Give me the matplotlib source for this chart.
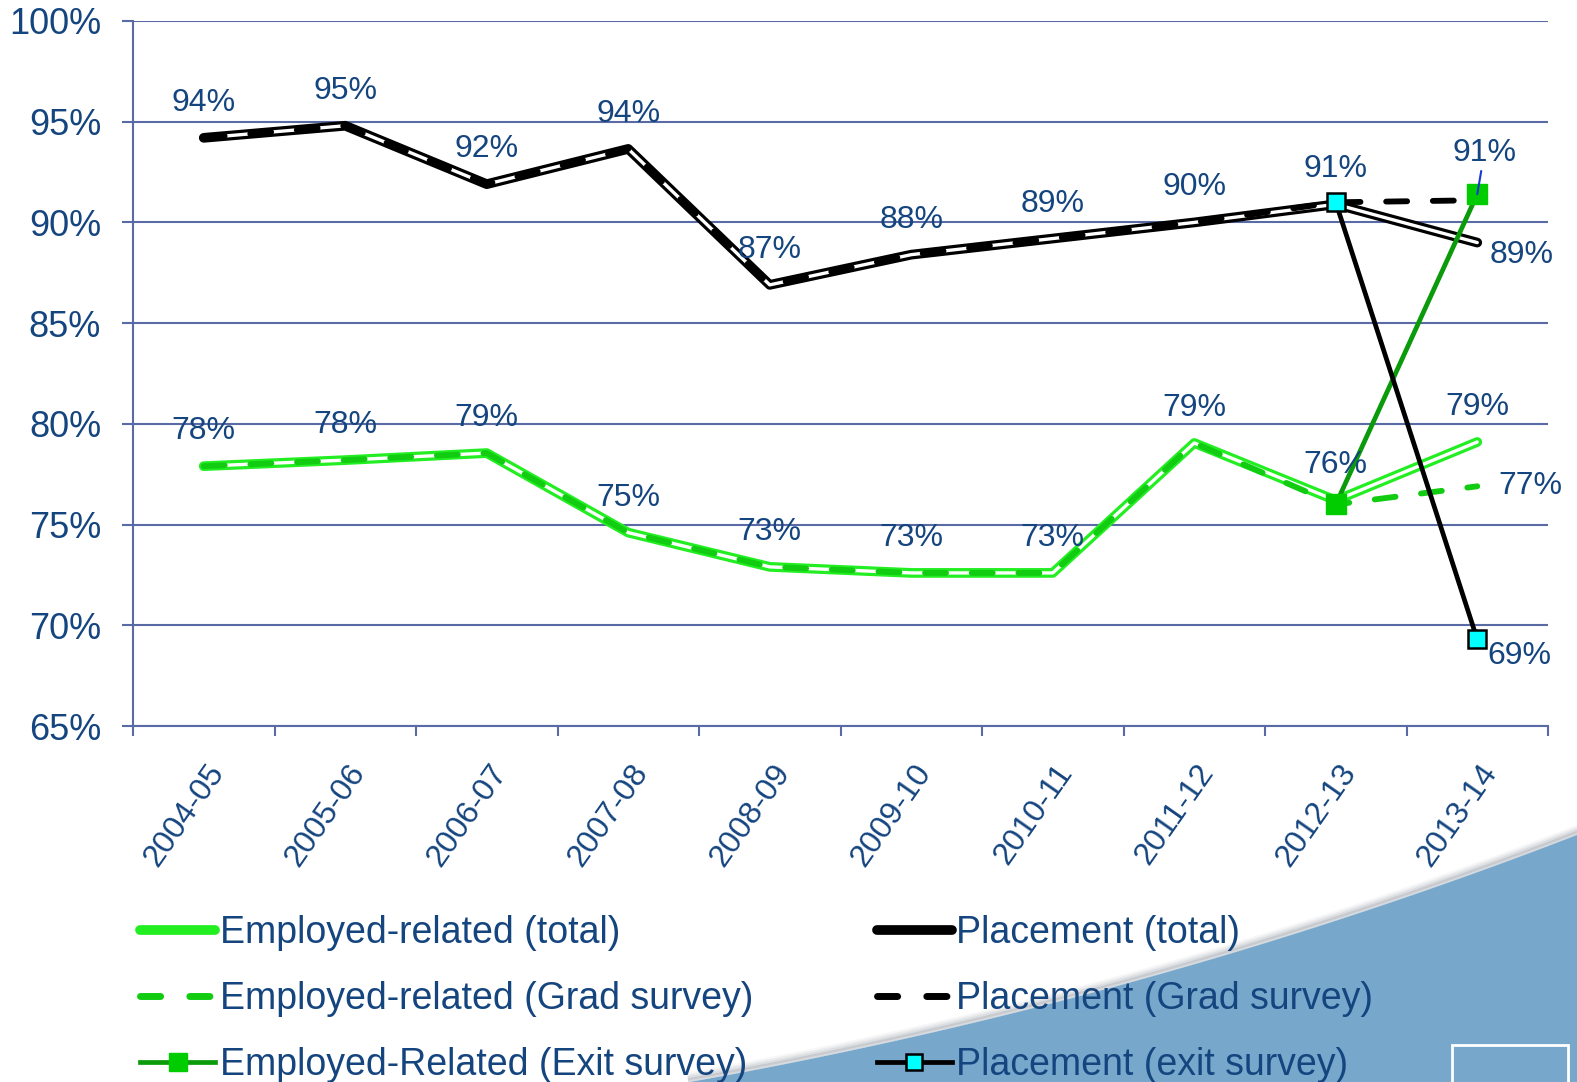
import numpy as np
import matplotlib.pyplot as plt
import matplotlib.transforms as mtransforms
from matplotlib.lines import Line2D
from matplotlib.patches import Polygon, Rectangle

plt.rcParams['font.family'] = ['Liberation Sans', 'DejaVu Sans']

years = ['2004-05', '2005-06', '2006-07', '2007-08', '2008-09',
         '2009-10', '2010-11', '2011-12', '2012-13', '2013-14']
placement_total = [94.2, 94.8, 91.9, 93.65, 86.9, 88.4, 89.2, 90.0, 90.9, 89.0]
placement_grad = [94.2, 94.8, 91.9, 93.65, 86.9, 88.4, 89.2, 90.0, 91.0, 91.1]
placement_exit = [91.0, 69.3]
employed_total = [77.9, 78.2, 78.55, 74.6, 72.9, 72.6, 72.6, 79.05, 76.2, 79.1]
employed_grad = [77.9, 78.2, 78.55, 74.6, 72.9, 72.6, 72.6, 79.05, 76.0, 76.9]
employed_exit = [76.0, 91.4]
exit_years = [8, 9]  # index of 2012-13, 2013-14

txt_col = '#15457F'
grid_col = '#5A6AA5'
green_tot = '#22EE22'
green_grad = '#11CC11'
green_exit = '#0A9A0A'

fig = plt.figure(figsize=(15.77, 10.82), dpi=100)

# decorative swoosh in the bottom right corner
W, H = 1577.0, 1082.0
t = np.linspace(0, 1, 80)
p0, p1, p2 = np.array([690, 1082]), np.array([1150, 1000]), np.array([1577, 835])
curve = np.outer((1 - t) ** 2, p0) + np.outer(2 * t * (1 - t), p1) + np.outer(t ** 2, p2)
pts = np.vstack([curve, [[1577, 1082]]])
pts_f = np.column_stack([pts[:, 0] / W, 1 - pts[:, 1] / H])
for k, a in [(8, 0.06), (6, 0.1), (4, 0.18), (2, 0.3)]:
    fig.lines.append(Line2D(curve[:, 0] / W, 1 - (curve[:, 1] - k) / H, transform=fig.transFigure,
                            color='#7F8792', lw=3, alpha=a, zorder=0))
fig.patches.append(Polygon(pts_f, closed=True, transform=fig.transFigure,
                           facecolor='#77A8CC', edgecolor='none', zorder=0))
fig.patches.append(Rectangle((1452 / W, 1 - 1090 / H), 116 / W, 45 / H, transform=fig.transFigure,
                             facecolor='none', edgecolor='white', lw=2, zorder=1))

ax = fig.add_axes([133 / W, 1 - 726 / H, (1548 - 133) / W, (726 - 21) / H])
x = np.arange(len(years))

# total lines: hollow double line
for vals, col in [(placement_total, 'black'), (employed_total, green_tot)]:
    ax.plot(x, vals, color=col, lw=7.0, solid_capstyle='round', solid_joinstyle='round', zorder=3)
    ax.plot(x, vals, color='white', lw=2.4, solid_capstyle='round', solid_joinstyle='round', zorder=4)

# grad survey dashed
for vals, col in [(placement_grad, 'black'), (employed_grad, green_grad)]:
    ax.plot(x, vals, color=col, lw=4.2, dashes=(3.6, 4.4), dash_capstyle='round',
            dash_joinstyle='round', zorder=5)

# exit survey lines
ax.plot(exit_years, employed_exit, color=green_exit, lw=3.4, marker='s', ms=14,
        mfc='#00CC00', mec='#00CC00', zorder=6)
ax.plot(exit_years, placement_exit, color='black', lw=3.4, marker='s', ms=13,
        mfc='#00FFFF', mec='black', mew=1.8, zorder=7)

# data labels
lab = dict(fontsize=23, color=txt_col, ha='center', va='center',
           textcoords='offset points', zorder=8)
s = 1 / 1.389  # px -> pt
for i in range(9):
    ax.annotate(f'{placement_total[i]:.0f}%', (x[i], placement_total[i]), xytext=(0, 35 * s), **lab)
for i in range(10):
    ax.annotate(f'{employed_total[i]:.0f}%', (x[i], employed_total[i]), xytext=(0, 35 * s), **lab)
ax.annotate(f'{placement_total[9]:.0f}%', (x[9], placement_total[9]), xytext=(44 * s, -12 * s), **lab)
ax.annotate(f'{placement_exit[1]:.0f}%', (x[9], placement_exit[1]), xytext=(42 * s, -17 * s), **lab)
ax.annotate(f'{employed_grad[9]:.0f}%', (x[9], employed_grad[9]), xytext=(53 * s, 0), **lab)
ax.annotate(f'{employed_exit[1]:.0f}%', (x[9], employed_exit[1]), xytext=(7 * s, 41 * s),
            arrowprops=dict(arrowstyle='-', color='#1838D0', lw=1.5, shrinkA=0, shrinkB=0), **lab)

# axes styling
ax.set_xlim(-0.5, 9.5)
ax.set_ylim(65, 100)
ax.set_yticks(np.arange(65, 101, 5))
ax.set_yticklabels([f'{v}%' for v in range(65, 101, 5)])
ax.yaxis.grid(True, color=grid_col, lw=1.5)
ax.set_axisbelow(True)
for sp in ['top', 'right']:
    ax.spines[sp].set_visible(False)
for sp in ['left', 'bottom']:
    ax.spines[sp].set_color(grid_col)
    ax.spines[sp].set_linewidth(1.5)
ax.tick_params(axis='y', length=8, width=1.5, color=grid_col, labelsize=26,
               labelcolor=txt_col, pad=15)
ax.set_xticks(x)
ax.set_xticklabels(years, rotation=55, ha='right', va='center', rotation_mode='anchor')
ax.set_xticks(np.arange(-0.5, 10, 1), minor=True)
ax.tick_params(axis='x', which='major', length=0, labelsize=23, labelcolor=txt_col, pad=30)
ax.tick_params(axis='x', which='minor', length=7, width=1.5, color=grid_col)
shift = mtransforms.ScaledTranslation(14 / 100, 0, fig.dpi_scale_trans)
for lbl in ax.get_xticklabels():
    lbl.set_transform(lbl.get_transform() + shift)

# legend
handles = [
    Line2D([], [], color=green_tot, lw=7, solid_capstyle='round'),
    Line2D([], [], color=green_grad, lw=5, dashes=(2.9, 4.2), dash_capstyle='round'),
    Line2D([], [], color=green_exit, lw=3.4, marker='s', ms=13, mfc='#00CC00', mec='#00CC00'),
    Line2D([], [], color='black', lw=7, solid_capstyle='round'),
    Line2D([], [], color='black', lw=5, dashes=(2.9, 4.2), dash_capstyle='round'),
    Line2D([], [], color='black', lw=3.4, marker='s', ms=12, mfc='#00FFFF', mec='black', mew=1.8),
]
labels = ['Employed-related (total)', 'Employed-related (Grad survey)', 'Employed-Related (Exit survey)',
          'Placement (total)', 'Placement (Grad survey)', 'Placement (exit survey)']
leg = fig.legend(handles, labels, ncol=2, loc='upper left', bbox_to_anchor=(140 / W, 1 - 915 / H),
                 frameon=False, prop={'family': 'Liberation Sans', 'size': 27},
                 handlelength=2.0, handletextpad=0.12,
                 columnspacing=3.3, labelspacing=0.8, borderpad=0, borderaxespad=0)
for t_ in leg.get_texts():
    t_.set_color(txt_col)

fig.savefig('out.png', dpi=100)
